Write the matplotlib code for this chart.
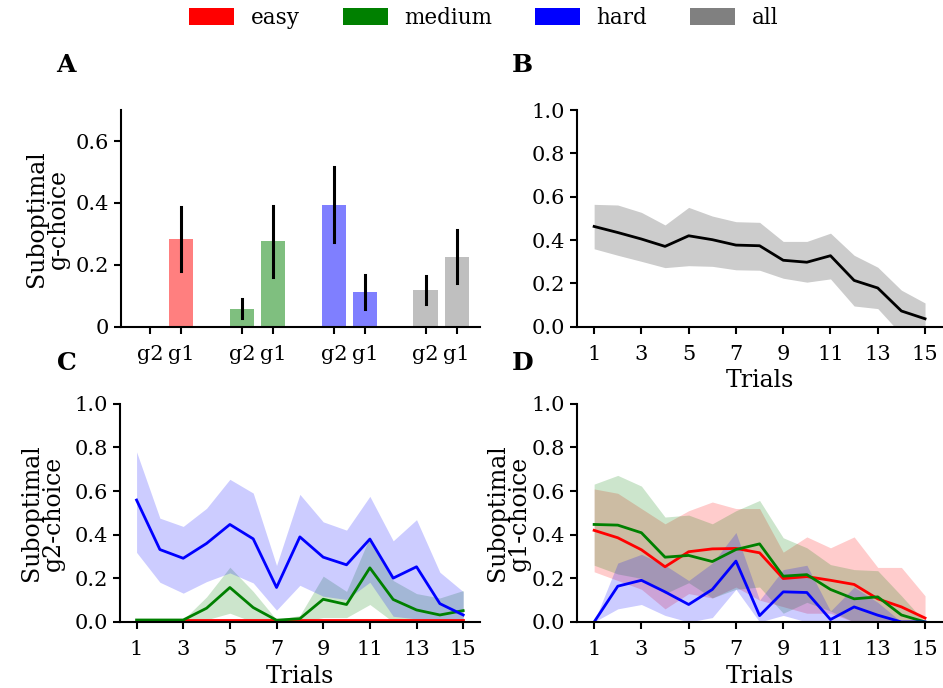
import numpy as np
import matplotlib
matplotlib.use("Agg")
import matplotlib.pyplot as plt
from matplotlib.patches import Patch

plt.rcParams['font.family'] = ['DejaVu Serif']
plt.rcParams['font.size'] = 15

levels = ['easy', 'medium', 'hard', 'all']
colors = ['red', 'green', 'blue', 'gray']
trials = np.arange(1, 16)

# panel A: mean suboptimal choice per level, g2 and g1
bar_g2 = [0.0, 0.059, 0.395, 0.119]
bar_g1 = [0.284, 0.278, 0.111, 0.226]
err_g2_lo = [0.0, 0.027, 0.275, 0.073]
err_g2_hi = [0.0, 0.091, 0.516, 0.164]
err_g1_lo = [0.181, 0.162, 0.056, 0.140]
err_g1_hi = [0.387, 0.391, 0.167, 0.313]

# panel B: all levels, both choices
all_mean = [0.463, 0.435, 0.405, 0.371, 0.420, 0.402, 0.377, 0.374, 0.307, 0.298, 0.328, 0.214, 0.179, 0.073, 0.037]
all_hi = [0.565, 0.562, 0.528, 0.470, 0.551, 0.511, 0.485, 0.482, 0.394, 0.394, 0.432, 0.330, 0.275, 0.169, 0.110]
all_lo = [0.360, 0.330, 0.302, 0.273, 0.282, 0.279, 0.263, 0.261, 0.224, 0.206, 0.221, 0.096, 0.084, -0.035, -0.035]

# panel C: g2 choice
g2_mean = {
    'easy': [0.008] * 15,
    'medium': [0.009, 0.009, 0.009, 0.063, 0.158, 0.066, 0.008, 0.015, 0.104, 0.080, 0.248, 0.103, 0.055, 0.032, 0.052],
    'hard': [0.559, 0.332, 0.292, 0.360, 0.447, 0.381, 0.158, 0.390, 0.297, 0.262, 0.380, 0.201, 0.253, 0.084, 0.032],
}
g2_hi = {
    'easy': [0.008] * 15,
    'medium': [0.01, 0.01, 0.01, 0.115, 0.251, 0.14, 0.01, 0.03, 0.21, 0.14, 0.39, 0.19, 0.13, 0.11, 0.144],
    'hard': [0.780, 0.476, 0.438, 0.521, 0.654, 0.591, 0.259, 0.585, 0.459, 0.421, 0.576, 0.372, 0.469, 0.228, 0.139],
}
g2_lo = {
    'easy': [0.008] * 15,
    'medium': [0.0, 0.0, 0.0, 0.01, 0.04, 0.0, 0.0, 0.0, 0.02, 0.02, 0.08, 0.0, 0.0, 0.0, 0.0],
    'hard': [0.319, 0.182, 0.132, 0.185, 0.225, 0.179, 0.054, 0.168, 0.118, 0.103, 0.182, 0.026, 0.014, 0.0, 0.0],
}

# panel D: g1 choice
g1_mean = {
    'easy': [0.420, 0.386, 0.331, 0.253, 0.322, 0.335, 0.337, 0.317, 0.199, 0.208, 0.191, 0.172, 0.106, 0.069, 0.018],
    'medium': [0.447, 0.444, 0.409, 0.297, 0.305, 0.277, 0.332, 0.358, 0.210, 0.217, 0.149, 0.106, 0.115, 0.032, 0.0],
    'hard': [0.0, 0.164, 0.191, 0.138, 0.080, 0.149, 0.279, 0.029, 0.138, 0.135, 0.011, 0.069, 0.031, 0.0, 0.0],
}
g1_hi = {
    'easy': [0.61, 0.59, 0.52, 0.45, 0.51, 0.55, 0.52, 0.52, 0.32, 0.39, 0.34, 0.39, 0.25, 0.25, 0.12],
    'medium': [0.632, 0.672, 0.623, 0.481, 0.49, 0.45, 0.51, 0.557, 0.386, 0.34, 0.263, 0.24, 0.235, 0.12, 0.0],
    'hard': [0.0, 0.27, 0.31, 0.26, 0.19, 0.27, 0.41, 0.10, 0.24, 0.26, 0.05, 0.16, 0.09, 0.0, 0.0],
}
g1_lo = {
    'easy': [0.23, 0.19, 0.15, 0.06, 0.13, 0.11, 0.16, 0.10, 0.07, 0.04, 0.04, 0.0, 0.0, 0.0, 0.0],
    'medium': [0.26, 0.22, 0.20, 0.13, 0.18, 0.11, 0.15, 0.16, 0.04, 0.09, 0.05, 0.0, 0.0, 0.0, 0.0],
    'hard': [0.0, 0.06, 0.08, 0.03, 0.0, 0.02, 0.15, 0.0, 0.03, 0.0, 0.0, 0.0, 0.0, 0.0, 0.0],
}

fig = plt.figure(figsize=(9.43, 6.88), dpi=100)
axA = fig.add_axes([0.128, 0.525, 0.381, 0.315])
axB = fig.add_axes([0.612, 0.525, 0.387, 0.315])
axC = fig.add_axes([0.127, 0.096, 0.382, 0.317])
axD = fig.add_axes([0.612, 0.096, 0.387, 0.317])

for ax in [axA, axB, axC, axD]:
    ax.spines['top'].set_visible(False)
    ax.spines['right'].set_visible(False)
    ax.spines['left'].set_linewidth(1.5)
    ax.spines['bottom'].set_linewidth(1.5)
    ax.tick_params(width=1.5, length=5, labelsize=15)

# A
pos_g2 = np.arange(4) * 2.95
pos_g1 = pos_g2 + 1
for i in range(4):
    if bar_g2[i] > 0:
        axA.bar(pos_g2[i], bar_g2[i], width=0.78, color=colors[i], alpha=0.5)
        axA.plot([pos_g2[i], pos_g2[i]], [err_g2_lo[i], err_g2_hi[i]], color='black', lw=2.2)
    axA.bar(pos_g1[i], bar_g1[i], width=0.78, color=colors[i], alpha=0.5)
    axA.plot([pos_g1[i], pos_g1[i]], [err_g1_lo[i], err_g1_hi[i]], color='black', lw=2.2)
ticks = np.sort(np.concatenate([pos_g2, pos_g1]))
axA.set_xticks(ticks)
axA.set_xticklabels(['g2', 'g1'] * 4)
axA.tick_params(axis='x', pad=8)
axA.set_xlim(-0.95, 10.6)
axA.set_ylim(0, 0.7)
axA.set_yticks([0, 0.2, 0.4, 0.6])
axA.set_yticklabels(['0', '0.2', '0.4', '0.6'])
axA.set_ylabel('Suboptimal\ng-choice', fontsize=17, linespacing=0.95)

# B
axB.fill_between(trials, all_lo, all_hi, color='gray', alpha=0.4, lw=0)
axB.plot(trials, all_mean, color='black', lw=2)
axB.set_xlabel('Trials', fontsize=17)

# C
for lv, c in zip(levels[:3], colors[:3]):
    axC.fill_between(trials, g2_lo[lv], g2_hi[lv], color=c, alpha=0.2, lw=0)
    axC.plot(trials, g2_mean[lv], color=c, lw=2)
axC.set_xlabel('Trials', fontsize=17)
axC.set_ylabel('Suboptimal\ng2-choice', fontsize=17, linespacing=0.95, labelpad=7)

# D
for lv, c in zip(levels[:3], colors[:3]):
    axD.fill_between(trials, g1_lo[lv], g1_hi[lv], color=c, alpha=0.2, lw=0)
    axD.plot(trials, g1_mean[lv], color=c, lw=2)
axD.set_xlabel('Trials', fontsize=17)
axD.set_ylabel('Suboptimal\ng1-choice', fontsize=17, linespacing=0.95, labelpad=0.5)

for ax in [axB, axC, axD]:
    ax.set_ylim(0, 1.0)
    ax.set_yticks([0.0, 0.2, 0.4, 0.6, 0.8, 1.0])
    ax.set_xlim(0.28, 15.72)
    ax.set_xticks(np.arange(1, 16, 2))
    ax.tick_params(axis='x', pad=8)

for lab, x, y in [('A', 0.060, 0.895), ('B', 0.543, 0.895), ('C', 0.060, 0.462), ('D', 0.543, 0.462)]:
    fig.text(x, y, lab, fontsize=18, fontweight='bold')

handles = [Patch(facecolor=c, edgecolor='none') for c in colors]
fig.legend(handles, levels, loc='upper center', bbox_to_anchor=(0.513, 1.018), ncol=4,
           frameon=False, fontsize=15.5, handlelength=2.1, handleheight=0.85,
           handletextpad=0.75, columnspacing=2.0)

fig.savefig('out.png', dpi=100)
